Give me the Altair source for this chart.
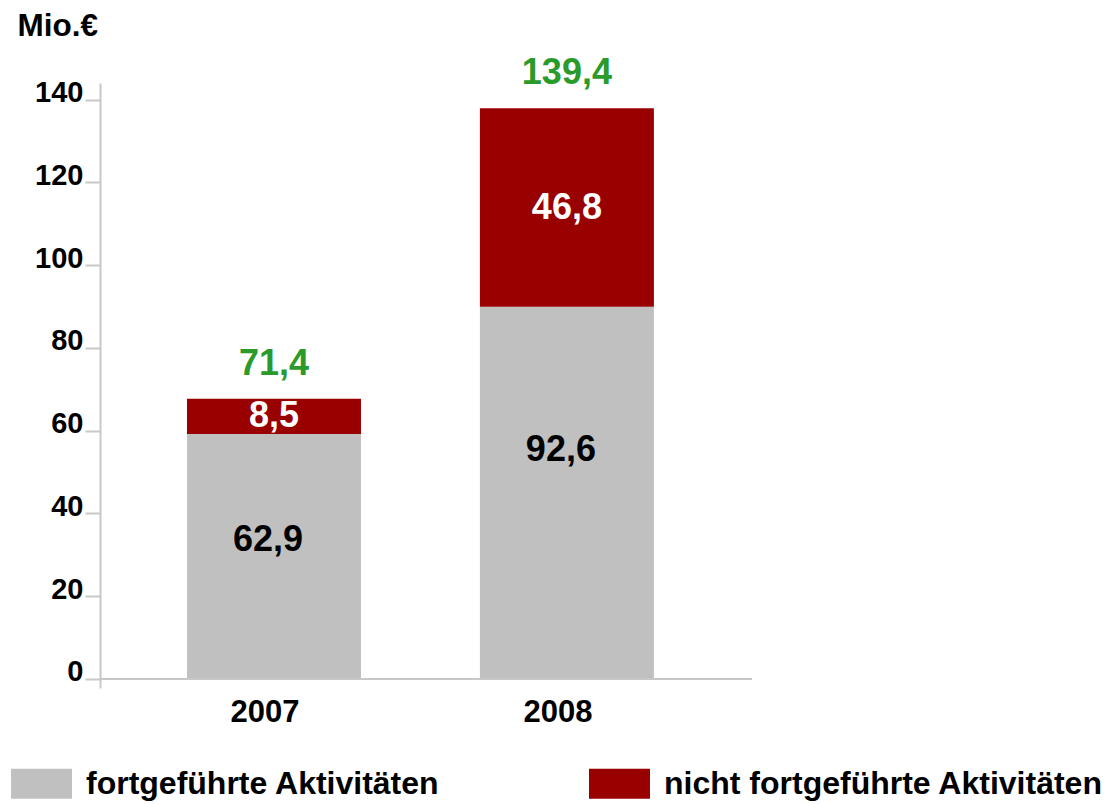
import altair as alt
import pandas as pd

years = ["2007", "2008"]
series_names = ["fortgeführte Aktivitäten", "nicht fortgeführte Aktivitäten"]
grey_values = [59.2, 89.9]      # drawn height of continuing operations
red_values = [8.5, 48.0]        # drawn height of discontinued operations
grey_labels = ["62,9", "92,6"]
red_labels = ["8,5", "46,8"]
total_labels = ["71,4", "139,4"]
grey_label_at = [33.5, 55.3]
y_ticks = [0, 20, 40, 60, 80, 100, 120, 140]

FONT = "Liberation Sans"
GREY = "#c0c0c0"
RED = "#990000"
GREEN = "#2a9a2a"
LINE = "#c8c8c8"

rows = []
for i, yr in enumerate(years):
    rows.append({"year": yr, "series": series_names[0], "value": grey_values[i], "order": 0})
    rows.append({"year": yr, "series": series_names[1], "value": red_values[i], "order": 1})
df = pd.DataFrame(rows)

lab = pd.DataFrame({
    "year": years,
    "grey_pos": grey_label_at,
    "red_pos": [g + r / 2 for g, r in zip(grey_values, red_values)],
    "total_pos": [g + r for g, r in zip(grey_values, red_values)],
    "grey_txt": grey_labels,
    "red_txt": red_labels,
    "total_txt": total_labels,
})

x_enc = alt.X(
    "year:N",
    title=None,
    sort=years,
    scale=alt.Scale(paddingInner=0.406, paddingOuter=0.316, align=0.47),
    axis=alt.Axis(
        domain=False, ticks=False, labelAngle=0, labelFont=FONT, labelFontSize=31,
        labelFontWeight="bold", labelColor="#000000", labelPadding=9, labelOffset=-9,
    ),
)
y_scale = alt.Scale(domain=[-2.2, 144], nice=False, zero=False)

bars = alt.Chart(df).mark_bar().encode(
    x=x_enc,
    y=alt.Y(
        "value:Q", stack="zero", scale=y_scale, title="Mio.€",
        axis=alt.Axis(
            values=y_ticks, grid=False, domainColor=LINE, domainWidth=2,
            tickColor=LINE, tickWidth=2, tickSize=15, labelPadding=2,
            labelFont=FONT, labelFontSize=29, labelFontWeight="bold", labelColor="#000000",
            labelOffset=-7,
            titleAngle=0, titleAlign="left", titleBaseline="alphabetic",
            titleX=-83, titleY=-48, titleFont=FONT, titleFontSize=31.5,
            titleFontWeight="bold", titleColor="#000000",
        ),
    ),
    color=alt.Color(
        "series:N",
        scale=alt.Scale(domain=series_names, range=[GREY, RED]),
        legend=alt.Legend(
            title=None, orient="none", legendX=-89, legendY=670, direction="horizontal",
            columns=2, columnPadding=149, symbolType="M-1,-0.49H1V0.49H-1Z",
            symbolSize=3721, symbolStrokeWidth=0, symbolOpacity=1, labelOffset=14,
            labelFont=FONT, labelFontSize=32, labelFontWeight="bold", labelColor="#000000",
            labelLimit=0, padding=0,
        ),
    ),
    order=alt.Order("order:Q"),
)

baseline = alt.Chart(lab).mark_rule(color=LINE, strokeWidth=2).encode(
    y=alt.Y(datum=0, scale=y_scale)
)

txt_common = dict(font=FONT, fontWeight="bold", fontSize=36, baseline="middle", align="center")

grey_text = alt.Chart(lab).mark_text(color="#000000", dx=-6, **txt_common).encode(
    x=alt.X("year:N", sort=years), y=alt.Y("grey_pos:Q"), text="grey_txt:N"
)
red_text = alt.Chart(lab).mark_text(color="#ffffff", **txt_common).encode(
    x=alt.X("year:N", sort=years), y=alt.Y("red_pos:Q"), text="red_txt:N"
)
total_text = alt.Chart(lab).mark_text(color=GREEN, dy=-35, **txt_common).encode(
    x=alt.X("year:N", sort=years), y=alt.Y("total_pos:Q"), text="total_txt:N"
)

chart = alt.layer(bars, baseline, grey_text, red_text, total_text).properties(
    width=652, height=605,
    autosize=alt.AutoSizeParams(type="none"),
    padding={"left": 92, "top": 75, "right": 349, "bottom": 116},
).configure_view(stroke=None)

chart.save("out.html", embed_options={"renderer": "svg", "actions": False})
